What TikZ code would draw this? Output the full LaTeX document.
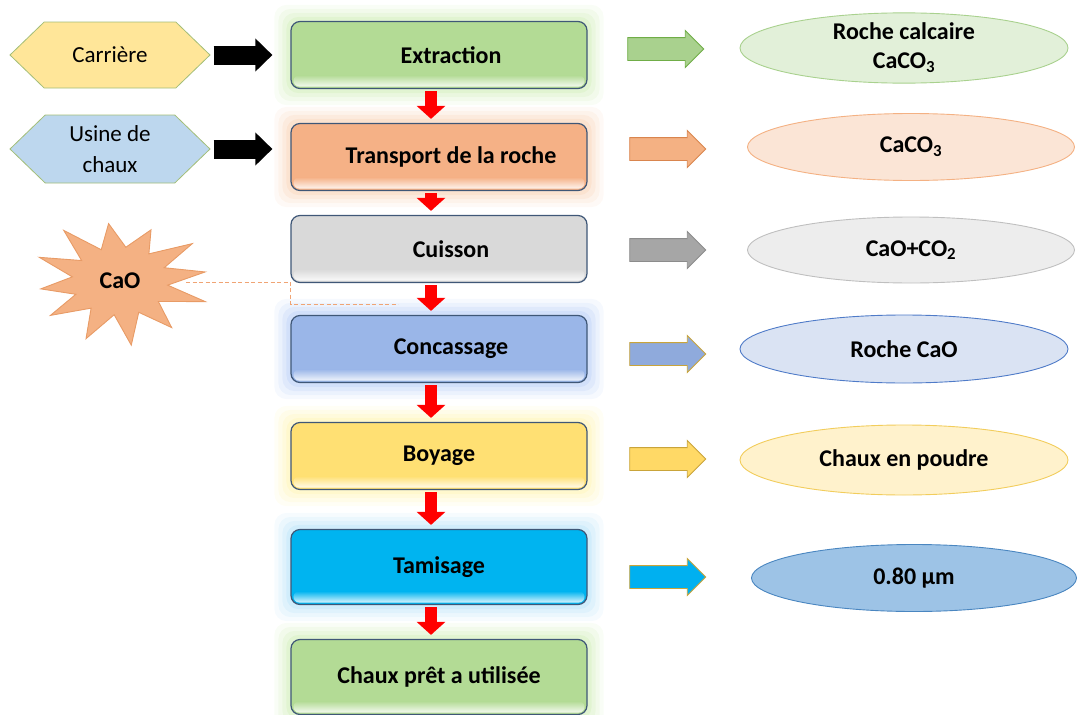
\documentclass[tikz,border=0pt]{standalone}
\usepackage{fontspec}
\setmainfont{Carlito}
\usetikzlibrary{shapes.geometric,shapes.arrows,shapes.symbols,arrows.meta,backgrounds,calc}
\definecolor{boxline}{HTML}{3F5777}
\definecolor{cGreen}{HTML}{B3DB95}
\definecolor{cOrange}{HTML}{F5B186}
\definecolor{cGray}{HTML}{D9D9D9}
\definecolor{cBlue}{HTML}{9AB6E8}
\definecolor{cYellow}{HTML}{FFE073}
\definecolor{cCyan}{HTML}{00B4F0}
\definecolor{gGreen}{HTML}{C6EAA8}
\definecolor{gOrange}{HTML}{F8C9A6}
\definecolor{gBlue}{HTML}{A9C4F5}
\definecolor{gYellow}{HTML}{FFF1A0}
\definecolor{gCyan}{HTML}{A8DCF8}
\definecolor{hexYellow}{HTML}{FFE699}
\definecolor{hexBlue}{HTML}{BDD7EE}
\definecolor{hexLine}{HTML}{A3BE78}
\definecolor{starFill}{HTML}{F4B183}
\definecolor{starLine}{HTML}{E89B66}
\definecolor{aGreen}{HTML}{A9D18E}
\definecolor{aGreenL}{HTML}{70AD47}
\definecolor{aOrange}{HTML}{F4B183}
\definecolor{aOrangeL}{HTML}{D9854E}
\definecolor{aGray}{HTML}{A6A6A6}
\definecolor{aGrayL}{HTML}{8C8C8C}
\definecolor{aBlue}{HTML}{8FAADC}
\definecolor{aGold}{HTML}{C9A43A}
\definecolor{aYellow}{HTML}{FFD966}
\definecolor{aCyan}{HTML}{00B0F0}
\definecolor{e1}{HTML}{E2F0D9}\definecolor{e1l}{HTML}{A9D18E}
\definecolor{e2}{HTML}{FBE5D6}\definecolor{e2l}{HTML}{F4B183}
\definecolor{e3}{HTML}{EDEDED}\definecolor{e3l}{HTML}{BFBFBF}
\definecolor{e4}{HTML}{DAE3F3}\definecolor{e4l}{HTML}{4F7BC8}
\definecolor{e5}{HTML}{FFF2CC}\definecolor{e5l}{HTML}{F2CD5C}
\definecolor{e6}{HTML}{9DC3E6}\definecolor{e6l}{HTML}{4A86C0}
\definecolor{dashC}{HTML}{F0A474}
\newcommand{\glowbox}[2]{%
  \begin{scope}[on background layer]
    \foreach \g/\o in {16/0.10,12/0.14,8/0.18,4/0.25}{%
      \fill[#2,opacity=\o,rounded corners=12pt] ($(#1.south west)+(-\g,-\g)$) rectangle ($(#1.north east)+(\g,\g)$);}
  \end{scope}}
\newcommand{\glossbox}[2]{%
  \shade[top color=#2, bottom color=#2!15!white, rounded corners=6pt] ($(#1.south west)+(3,2.5)$) rectangle ($(#1.south east)+(-3,14)$);}
\begin{document}
\begin{tikzpicture}[x=1pt,y=1pt,
  font=\fontsize{23}{28}\selectfont,
  stepbox/.style={draw=boxline, line width=1.2pt, rounded corners=9pt, minimum width=296pt, minimum height=67pt, inner sep=0pt, font=\bfseries\fontsize{24}{29}\selectfont},
  hexa/.style={signal, signal to=east and west, signal pointer angle=88, draw=hexLine, line width=0.8pt, minimum width=200pt, minimum height=66pt, inner sep=0pt, align=center, font=\fontsize{23}{31}\selectfont},
  oval/.style={ellipse, minimum width=328pt, minimum height=68pt, line width=0.9pt, inner sep=0pt, align=center, font=\bfseries\fontsize{24}{29}\selectfont},
  rarrow/.style={single arrow, single arrow head extend=7pt, minimum height=76pt, inner xsep=0pt, inner ysep=11pt, line width=0.9pt},
  redflow/.style={draw=red, line width=12pt, -{Triangle[width=28pt,length=13pt]}, shorten <=2pt, shorten >=4pt},
  blackflow/.style={draw=black, line width=19pt, -{Triangle[width=32pt,length=17pt]}, shorten <=3pt, shorten >=18pt},
  dashline/.style={draw=dashC, line width=0.9pt, dash pattern=on 4pt off 2.5pt}
]
\useasboundingbox (0,0) rectangle (1077,-715);
% process boxes
\node[stepbox, fill=cGreen] (extraction) at (439,-55) {\hspace*{24pt}Extraction};
\node[stepbox, fill=cOrange] (transport) at (439,-157) {\hspace*{24pt}Transport de la roche};
\node[stepbox, fill=cGray] (cuisson) at (439,-249) {\hspace*{24pt}Cuisson};
\node[stepbox, fill=cBlue] (concassage) at (439,-349) {\hspace*{24pt}Concassage};
\node[stepbox, fill=cYellow] (boyage) at (439,-456) {Boyage};
\node[stepbox, fill=cCyan, minimum height=75pt] (tamisage) at (439,-567) {Tamisage};
\node[stepbox, fill=cGreen, minimum height=75pt] (chaux) at (439,-677) {Chaux prêt a utilisée};
\glowbox{extraction}{gGreen}
\glowbox{transport}{gOrange}
\glowbox{concassage}{gBlue}
\glowbox{boyage}{gYellow}
\glowbox{tamisage}{gCyan}
\glowbox{chaux}{gGreen}
\glossbox{extraction}{cGreen}
\glossbox{transport}{cOrange}
\glossbox{cuisson}{cGray}
\glossbox{concassage}{cBlue}
\glossbox{boyage}{cYellow}
\glossbox{tamisage}{cCyan}
\glossbox{chaux}{cGreen}
% red flow arrows
\draw[redflow] ($(extraction.south)+(-8,0)$) -- ($(transport.north)+(-8,0)$);
\draw[redflow] ($(transport.south)+(-8,0)$) -- ($(cuisson.north)+(-8,0)$);
\draw[redflow] ($(cuisson.south)+(-8,0)$) -- ($(concassage.north)+(-8,0)$);
\draw[redflow] ($(concassage.south)+(-8,0)$) -- ($(boyage.north)+(-8,0)$);
\draw[redflow] ($(boyage.south)+(-8,0)$) -- ($(tamisage.north)+(-8,0)$);
\draw[redflow] ($(tamisage.south)+(-8,0)$) -- ($(chaux.north)+(-8,0)$);
% left inputs
\node[hexa, fill=hexYellow] (carriere) at (110,-55) {Carrière};
\node[hexa, fill=hexBlue, minimum height=68pt] (usine) at (110,-149) {Usine de\\chaux};
\draw[blackflow] (carriere.east) -- (extraction.west);
\draw[blackflow] (usine.east) -- (usine.east -| transport.west);
% explosion
\coordinate (starC) at (120,-281);
\coordinate (starE) at (186,-282);
\coordinate (dashEnd) at (398,-304);
\draw[dashline] (starE) -- (starE -| cuisson.west) |- (dashEnd);
\draw[fill=starFill, draw=starLine, line width=0.9pt]
  plot[samples at={0,...,23}, variable=\k]
  ({120 + (mod(\k,2)==0 ? 86+6*sin(\k*53) : 48)*cos(\k*15+8)},
   {-281 + (mod(\k,2)==0 ? 60+5*cos(\k*41) : 34)*sin(\k*15+8)}) -- cycle;
\node[font=\bfseries\fontsize{24}{29}\selectfont] (cao) at (starC) {CaO};
% right arrows
\node[rarrow, fill=aGreen, draw=aGreenL] (ra1) at (660,-49) {};
\node[rarrow, fill=aOrange, draw=aOrangeL] (ra2) at (662,-149) {};
\node[rarrow, fill=aGray, draw=aGrayL] (ra3) at (662,-250) {};
\node[rarrow, fill=aBlue, draw=aGold] (ra4) at (662,-354) {};
\node[rarrow, fill=aYellow, draw=aGold] (ra5) at (662,-459) {};
\node[rarrow, fill=aCyan, draw=aGold] (ra6) at (662,-577) {};
% results
\node[oval, fill=e1, draw=e1l] (o1) at (904,-48) {Roche calcaire\\CaCO\textsubscript{3}};
\node[oval, fill=e2, draw=e2l, minimum width=327pt, minimum height=67pt] (o2) at (911,-147) {CaCO\textsubscript{3}};
\node[oval, fill=e3, draw=e3l, minimum width=327pt, minimum height=66pt] (o3) at (911,-250) {CaO+CO\textsubscript{2}};
\node[oval, fill=e4, draw=e4l] (o4) at (904,-349) {Roche CaO};
\node[oval, fill=e5, draw=e5l, minimum height=70pt] (o5) at (904,-460) {Chaux en poudre};
\node[oval, fill=e6, draw=e6l, minimum width=325pt, minimum height=67pt] (o6) at (914,-578) {0.80 µm};
\end{tikzpicture}
\end{document}
